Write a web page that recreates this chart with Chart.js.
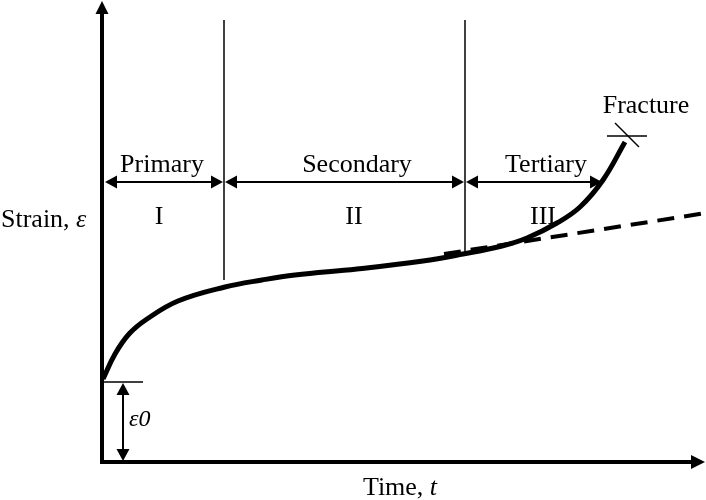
<!DOCTYPE html>
<html>
<head>
<meta charset="utf-8">
<script src="https://cdn.jsdelivr.net/npm/chart.js@4/dist/chart.umd.min.js"></script>
<style>
  html, body { margin: 0; padding: 0; background: #fff; }
  canvas { display: block; }
</style>
</head>
<body>
<canvas id="creep" width="706" height="500"></canvas>
<script>
// creep curve (arbitrary time / strain units)
const curveTime   = [0.2, 2.6, 5.4, 9, 15.2, 24.6, 32, 38.6, 51, 64.2, 72.2, 80, 85, 91, 95.6, 100.2, 104.6];
const curveStrain = [16.6, 21.6, 25.6, 28.6, 32.2, 35, 36.4, 37.4, 38.6, 40.2, 41.6, 43.2, 44.8, 47.8, 51, 56.4, 64];

// steady-state extrapolation (dashed)
const trendTime   = [68.4, 120.8];
const trendStrain = [41.6, 49.8];

// stage boundaries and labels
const stageBounds   = [0, 24.4, 72.6, 100.2];
const stageNames    = ['Primary', 'Secondary', 'Tertiary'];
const stageNumerals = ['I', 'II', 'III'];
const stageLabelAt  = [12, 51, 88.8];
const dividerTimes   = [24.4, 72.6];
const dividerBottoms = [36.4, 41.6];
const dividerTop     = 88.4;
const arrowStrain    = 56;

// instantaneous strain and fracture point
const eps0 = 16;
const fracturePoint = [104.6, 64];

const xMax = 120.8, yMax = 92;

function pts(xs, ys){ return xs.map((x,i)=>({x, y: ys[i]})); }

const dividerSets = dividerTimes.map((t,i)=>({
    data: [{x:t, y:dividerBottoms[i]}, {x:t, y:dividerTop}],
    borderColor:'#000', borderWidth:1.5, pointRadius:0, showLine:true
}));

function arrowHead(ctx, x, y, dir, len, half){
    // dir: 'l','r','u','d'
    ctx.beginPath();
    if(dir==='r'){ ctx.moveTo(x,y); ctx.lineTo(x-len,y-half); ctx.lineTo(x-len,y+half); }
    if(dir==='l'){ ctx.moveTo(x,y); ctx.lineTo(x+len,y-half); ctx.lineTo(x+len,y+half); }
    if(dir==='u'){ ctx.moveTo(x,y); ctx.lineTo(x-half,y+len); ctx.lineTo(x+half,y+len); }
    if(dir==='d'){ ctx.moveTo(x,y); ctx.lineTo(x-half,y-len); ctx.lineTo(x+half,y-len); }
    ctx.closePath(); ctx.fill();
}

const serif = '"Liberation Serif", "DejaVu Serif", serif';

const annotate = {
    id:'annotate',
    afterDraw(chart){
        const ctx = chart.ctx, X = chart.scales.x, Y = chart.scales.y;
        const px = v => X.getPixelForValue(v), py = v => Y.getPixelForValue(v);
        ctx.save();
        ctx.fillStyle = '#000'; ctx.strokeStyle = '#000';

        // axes with arrows
        const ox = px(0), oy = py(0);
        ctx.lineWidth = 4;
        ctx.beginPath(); ctx.moveTo(ox, oy); ctx.lineTo(ox, 12); ctx.stroke();
        ctx.beginPath(); ctx.moveTo(ox-2, oy); ctx.lineTo(694, oy); ctx.stroke();
        arrowHead(ctx, ox, 1, 'u', 13, 6.5);
        arrowHead(ctx, 705, oy, 'r', 14, 7);

        // stage span arrows
        ctx.lineWidth = 2;
        const ay = py(arrowStrain);
        for(let i=0;i<stageNames.length;i++){
            const a = px(stageBounds[i]) + (i===0?2:0), b = px(stageBounds[i+1]);
            ctx.beginPath(); ctx.moveTo(a+8, ay); ctx.lineTo(b-8, ay); ctx.stroke();
            arrowHead(ctx, a+1, ay, 'l', 12, 6.5);
            arrowHead(ctx, b-1, ay, 'r', 12, 6.5);
        }

        // eps0 marker
        ctx.lineWidth = 1.5;
        ctx.beginPath(); ctx.moveTo(ox, py(eps0)); ctx.lineTo(px(8.2), py(eps0)); ctx.stroke();
        const ex = px(4.2);
        ctx.lineWidth = 2;
        ctx.beginPath(); ctx.moveTo(ex, py(eps0)+10); ctx.lineTo(ex, oy-10); ctx.stroke();
        arrowHead(ctx, ex, py(eps0)+1, 'u', 12, 6.5);
        arrowHead(ctx, ex, oy-1, 'd', 12, 6.5);

        // fracture mark
        const fx = px(fracturePoint[0]), fy = py(fracturePoint[1]);
        ctx.lineWidth = 1.5;
        ctx.beginPath(); ctx.moveTo(fx-18, fy-6); ctx.lineTo(fx+22, fy-6); ctx.stroke();
        ctx.beginPath(); ctx.moveTo(fx-10, fy-19); ctx.lineTo(fx+14, fy+5); ctx.stroke();

        // texts
        ctx.textAlign = 'center'; ctx.textBaseline = 'middle';
        ctx.font = '26px ' + serif;
        stageNames.forEach((s,i)=> ctx.fillText(s, px(stageLabelAt[i]), py(59.4)));
        stageNumerals.forEach((s,i)=> ctx.fillText(s, px(stageLabelAt[i]-0.6), py(49)));
        ctx.fillText('Fracture', px(108.8), py(71.2));

        // Time, t
        ctx.textAlign = 'left';
        let w1 = ctx.measureText('Time, ').width;
        ctx.font = 'italic 26px ' + serif;
        let w2 = ctx.measureText('t').width;
        let sx = px(59.6) - (w1+w2)/2, sy = py(-5.2);
        ctx.font = '26px ' + serif; ctx.fillText('Time, ', sx, sy);
        ctx.font = 'italic 26px ' + serif; ctx.fillText('t', sx+w1, sy);

        // Strain, eps
        ctx.font = '26px ' + serif;
        ctx.fillText('Strain, ', 1, py(48.4));
        w1 = ctx.measureText('Strain, ').width;
        ctx.font = 'italic 26px ' + serif; ctx.fillText('\u03b5', 1+w1, py(48.4));

        // eps0
        ctx.font = 'italic 24px ' + serif;
        ctx.fillText('\u03b50', px(5.4), py(8.4));
        ctx.restore();
    }
};

new Chart(document.getElementById('creep'), {
    type:'scatter',
    data:{ datasets:[
        { data: pts(curveTime, curveStrain), borderColor:'#000', borderWidth:5, pointRadius:0,
          showLine:true, tension:0.4, borderCapStyle:'butt' },
        { data: pts(trendTime, trendStrain), borderColor:'#000', borderWidth:4, pointRadius:0,
          showLine:true, borderDash:[17,10] },
        ...dividerSets
    ]},
    options:{
        responsive:false, animation:false, devicePixelRatio:1,
        layout:{ padding:{ left:102, right:0, top:2, bottom:38 } },
        plugins:{ legend:{display:false}, tooltip:{enabled:false} },
        scales:{
            x:{ type:'linear', min:0, max:xMax, display:false },
            y:{ type:'linear', min:0, max:yMax, display:false }
        }
    },
    plugins:[annotate]
});
</script>
</body>
</html>
